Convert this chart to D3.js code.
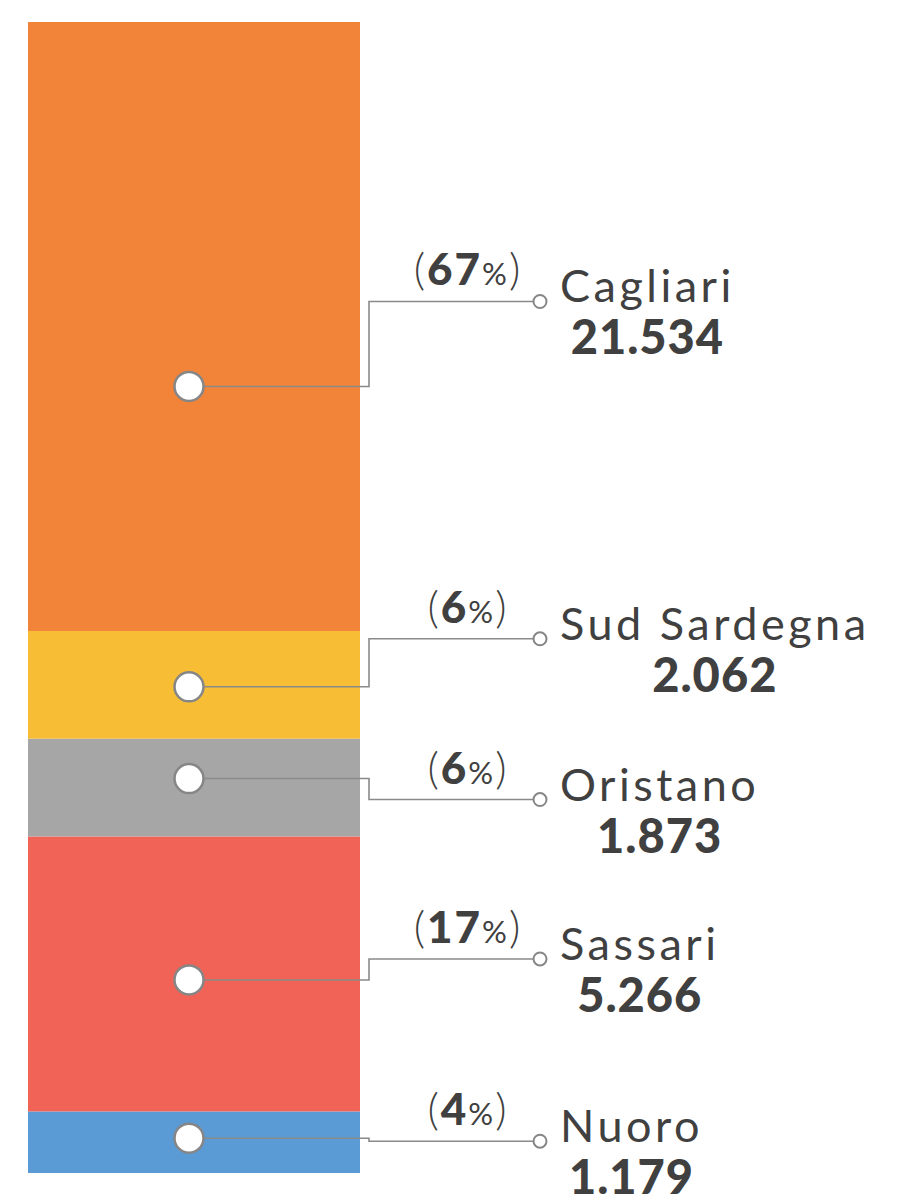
<!DOCTYPE html>
<html>
<head>
<meta charset="utf-8">
<script src="https://cdn.jsdelivr.net/npm/d3@7"></script>
<style>
  body { margin: 0; background: #fff; }
  text { font-family: Lato, "Open Sans", sans-serif; fill: #404040; }
</style>
</head>
<body>
<div id="wrapper"></div>
<script>
// values, bottom to top of the stack
const provinces = ["Nuoro", "Sassari", "Oristano", "Sud Sardegna", "Cagliari"];
const counts = [1179, 5266, 1873, 2062, 21534];
const shares = [4, 17, 6, 6, 67];
const colors = ["#5A9AD5", "#F06356", "#A6A6A6", "#F7BE35", "#F2843A"];

// callout layout (label offset from dot, dot nudge from segment middle)
const dotNudge = [-4, 6, -9, 2, 60];
const labelDy = [3, -21, 21, -48, -85];

const width = 918, height = 1203;
const bar = { left: 28, right: 360, top: 22, bottom: 1173 };

const svg = d3.select("#wrapper").append("svg")
  .attr("width", width)
  .attr("height", height);

// the top segment runs past the frame and is cut off
const y = d3.scaleLinear()
  .domain([0, 22042])
  .range([bar.bottom, bar.top]);

svg.append("clipPath").attr("id", "clip")
  .append("rect")
  .attr("x", bar.left).attr("y", bar.top)
  .attr("width", bar.right - bar.left)
  .attr("height", bar.bottom - bar.top);

var rows = provinces.map((p, i) => ({
  name: p, value: counts[i], share: shares[i], color: colors[i], i: i
}));
var acc = 0;
rows.forEach(d => { d.y0 = acc; acc += d.value; d.y1 = acc; });

svg.append("g").attr("clip-path", "url(#clip)")
  .selectAll("rect")
  .data(rows)
  .enter()
  .append("rect")
  .attr("x", bar.left)
  .attr("width", bar.right - bar.left)
  .attr("y", d => y(d.y1))
  .attr("height", d => y(d.y0) - y(d.y1))
  .attr("fill", d => d.color);

const dotX = 189, elbowX = 369, tipX = 540, nameX = 560, pctX = 468;
const fmt = d3.formatLocale({ decimal: ",", thousands: ".", grouping: [3] }).format(",d");

rows.forEach(d => {
  const top = Math.max(y(d.y1), bar.top);
  d.dotY = (top + y(d.y0)) / 2 + dotNudge[d.i];
  d.ly = d.dotY + labelDy[d.i];
});

var callouts = svg.selectAll("g.callout")
  .data(rows)
  .enter()
  .append("g")
  .attr("class", "callout");

callouts.append("path")
  .attr("d", d => `M${dotX},${d.dotY}H${elbowX}V${d.ly}H${tipX}`)
  .attr("fill", "none")
  .attr("stroke", "#8a8a8a")
  .attr("stroke-width", 1.6);

callouts.append("circle")
  .attr("cx", dotX).attr("cy", d => d.dotY)
  .attr("r", 14.5)
  .attr("fill", "#fff")
  .attr("stroke", "#868686")
  .attr("stroke-width", 2.5);

callouts.append("circle")
  .attr("cx", tipX).attr("cy", d => d.ly)
  .attr("r", 6.5)
  .attr("fill", "#fff")
  .attr("stroke", "#868686")
  .attr("stroke-width", 2);

var pct = callouts.append("text")
  .attr("x", pctX)
  .attr("y", d => d.ly - 16)
  .attr("text-anchor", "middle")
  .style("letter-spacing", "2px");
pct.append("tspan").style("font-size", "44px").style("font-weight", 300).text("(");
pct.append("tspan").style("font-size", "44px").style("font-weight", 900).text(d => d.share);
pct.append("tspan").style("font-size", "31px").style("font-weight", 400).text("%");
pct.append("tspan").style("font-size", "44px").style("font-weight", 300).text(")");

var names = callouts.append("text")
  .attr("class", "name")
  .attr("x", nameX)
  .attr("y", d => d.ly + 1)
  .style("font-size", "45px")
  .style("font-weight", 400)
  .style("letter-spacing", "3.5px")
  .text(d => d.name);

callouts.append("text")
  .attr("x", function (d) {
    const w = this.parentNode.querySelector("text.name").getComputedTextLength();
    return nameX + w / 2;
  })
  .attr("y", d => d.ly + 53)
  .attr("text-anchor", "middle")
  .style("font-size", "47px")
  .style("font-weight", 900)
  .style("letter-spacing", "1px")
  .text(d => fmt(d.value));
</script>
</body>
</html>
